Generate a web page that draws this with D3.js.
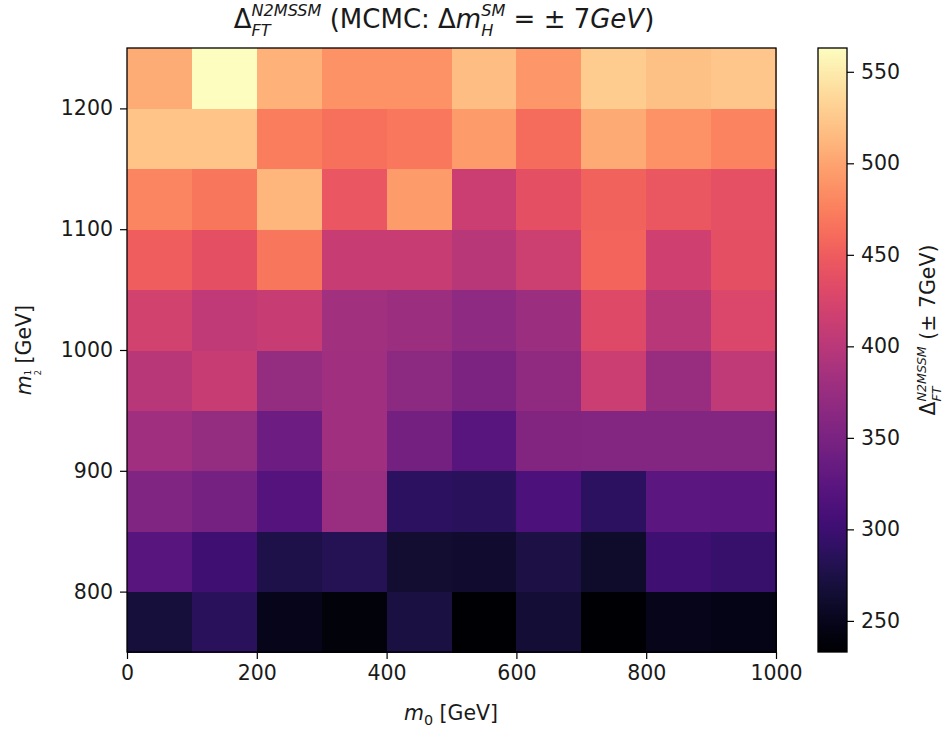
<!DOCTYPE html>
<html><head><meta charset="utf-8">
<script src="https://cdn.jsdelivr.net/npm/d3@7"></script>
<style>body{margin:0;background:#fff}svg{display:block}text{white-space:pre}</style>
</head><body><svg id="c" width="946" height="731"></svg>
<script>
// ---- data ----
const m0Bins = [0,100,200,300,400,500,600,700,800,900];          // left edges, width 100
const mHalfBins = [750,800,850,900,950,1000,1050,1100,1150,1200]; // bottom edges, width 50
// values per m_{1/2} row (bottom to top), each across m0 bins
const row750  = [269,287,249,240,272,234,266,233,249,246];
const row800  = [322,302,276,283,263,262,273,260,302,296];
const row850  = [355,346,319,375,289,287,312,289,325,324];
const row900  = [381,372,339,381,345,322,356,358,358,357];
const row950  = [398,411,371,381,365,352,368,414,374,405];
const row1000 = [421,405,411,382,378,366,378,431,398,428];
const row1050 = [450,437,468,411,411,398,415,457,418,437];
const row1100 = [478,468,512,444,494,414,437,454,445,439];
const row1150 = [522,522,474,464,470,494,461,504,487,477];
const row1200 = [505,562,510,487,488,517,490,527,520,524];
const rows = [row750,row800,row850,row900,row950,row1000,row1050,row1100,row1150,row1200];
const xTicks = [0,200,400,600,800,1000];
const yTicks = [800,900,1000,1100,1200];
const cTicks = [250,300,350,400,450,500,550];
const cMin = 233, cMax = 563;

// ---- layout ----
const svg = d3.select("#c");
const FONT = "DejaVu Sans";
const L=127, R=776, T=48, B=652;
const x = d3.scaleLinear().domain([0,1000]).range([L,R]);
const y = d3.scaleLinear().domain([750,1250]).range([B,T]);
const color = d3.scaleSequential(d3.interpolateMagma).domain([cMin,cMax]);

const cells = [];
rows.forEach((r,i)=>r.forEach((v,j)=>cells.push({x0:m0Bins[j], y0:mHalfBins[i], v})));
svg.append("g").selectAll("rect").data(cells).join("rect")
  .attr("x",d=>x(d.x0)).attr("y",d=>y(d.y0+50))
  .attr("width",d=>x(d.x0+100)-x(d.x0)+0.5).attr("height",d=>y(d.y0)-y(d.y0+50)+0.5)
  .attr("fill",d=>color(d.v)).attr("shape-rendering","crispEdges");

svg.append("rect").attr("x",L).attr("y",T).attr("width",R-L).attr("height",B-T)
  .attr("fill","none").attr("stroke","#000").attr("stroke-width",1.3);

function styleAxis(g){
  g.select(".domain").remove();
  g.selectAll(".tick line").attr("stroke","#000").attr("stroke-width",1.2);
  g.selectAll(".tick text").attr("font-family",FONT).attr("font-size",20.5).attr("fill","#1a1a1a");
}
svg.append("g").attr("transform",`translate(0,${B})`)
  .call(d3.axisBottom(x).tickValues(xTicks).tickSize(7).tickPadding(6).tickFormat(d3.format("d")))
  .call(styleAxis);
svg.append("g").attr("transform",`translate(${L},0)`)
  .call(d3.axisLeft(y).tickValues(yTicks).tickSize(7).tickPadding(7).tickFormat(d3.format("d")))
  .call(styleAxis);

// colorbar
const CL=818, CR=847;
const cy = d3.scaleLinear().domain([cMin,cMax]).range([B,T]);
const defs = svg.append("defs");
const grad = defs.append("linearGradient").attr("id","cb").attr("x1",0).attr("y1",1).attr("x2",0).attr("y2",0);
d3.range(0,1.0001,0.02).forEach(t=>grad.append("stop").attr("offset",t).attr("stop-color",d3.interpolateMagma(t)));
svg.append("rect").attr("x",CL).attr("y",T).attr("width",CR-CL).attr("height",B-T).attr("fill","url(#cb)");
svg.append("rect").attr("x",CL).attr("y",T).attr("width",CR-CL).attr("height",B-T)
  .attr("fill","none").attr("stroke","#000").attr("stroke-width",1.3);
svg.append("g").attr("transform",`translate(${CR},0)`)
  .call(d3.axisRight(cy).tickValues(cTicks).tickSize(7).tickPadding(7).tickFormat(d3.format("d")))
  .call(styleAxis);

// ---- math-like text helper ----
function measure(t, size, italic){
  const tmp = svg.append("text").attr("font-family",FONT).attr("font-size",size)
    .attr("font-style",italic?"italic":"normal").text(t);
  const w = tmp.node().getComputedTextLength(); tmp.remove(); return w;
}
// parts: {t, it, s (size), dy (baseline shift), stack (true => same x as previous)}
function mathText(g, parts, cx, baseY){
  let xpos = 0, prevX = 0, prevW = 0; const placed = [];
  parts.forEach(p=>{
    const w = measure(p.t, p.s, p.it);
    let px;
    if(p.stack){ px = prevX; const nw = Math.max(prevW,w); xpos = prevX + nw; prevW = nw; }
    else { px = xpos; prevX = px; prevW = w; xpos = px + w; }
    placed.push({p, px});
  });
  const total = xpos, x0 = cx - total/2;
  placed.forEach(({p,px})=>{
    g.append("text").attr("x",x0+px).attr("y",baseY+(p.dy||0))
      .attr("font-family",FONT).attr("font-size",p.s).attr("fill","#1a1a1a")
      .attr("font-style",p.it?"italic":"normal").text(p.t);
  });
  return total;
}
const S=26, s=S*0.62;
mathText(svg.append("g"), [
  {t:"Δ",s:S},
  {t:"N2MSSM",s:s,it:true,dy:-0.46*S},
  {t:"FT",s:s,it:true,dy:0.3*S,stack:true},
  {t:" (MCMC: Δ",s:S},
  {t:"m",s:S,it:true},
  {t:"SM",s:s,it:true,dy:-0.46*S},
  {t:"H",s:s,it:true,dy:0.3*S,stack:true},
  {t:" = ± 7",s:S},
  {t:"GeV",s:S,it:true},
  {t:")",s:S}
], 444, 28);

// x label
const F=20.5, f=F*0.7, g2=F*0.62;
mathText(svg.append("g"), [
  {t:"m",s:F,it:true},
  {t:"0",s:f,dy:0.22*F},
  {t:" [GeV]",s:F}
], 451, 720);

// y label (rotated)
mathText(svg.append("g").attr("transform","translate(31,350) rotate(-90)"), [
  {t:"m",s:F,it:true},
  {t:"1",s:F*0.4,dy:0.0*F},
  {t:"2",s:F*0.4,dy:0.48*F,stack:true},
  {t:" [GeV]",s:F}
], 0, 0);

// colorbar label (rotated)
const cb = svg.append("g").attr("transform","translate(935,330) rotate(-90)");
mathText(cb, [
  {t:"Δ",s:F},
  {t:"N2MSSM",s:g2,it:true,dy:-0.46*F},
  {t:"FT",s:g2,it:true,dy:0.3*F,stack:true},
  {t:" (± 7GeV)",s:F}
], 0, 0);
</script></body></html>
